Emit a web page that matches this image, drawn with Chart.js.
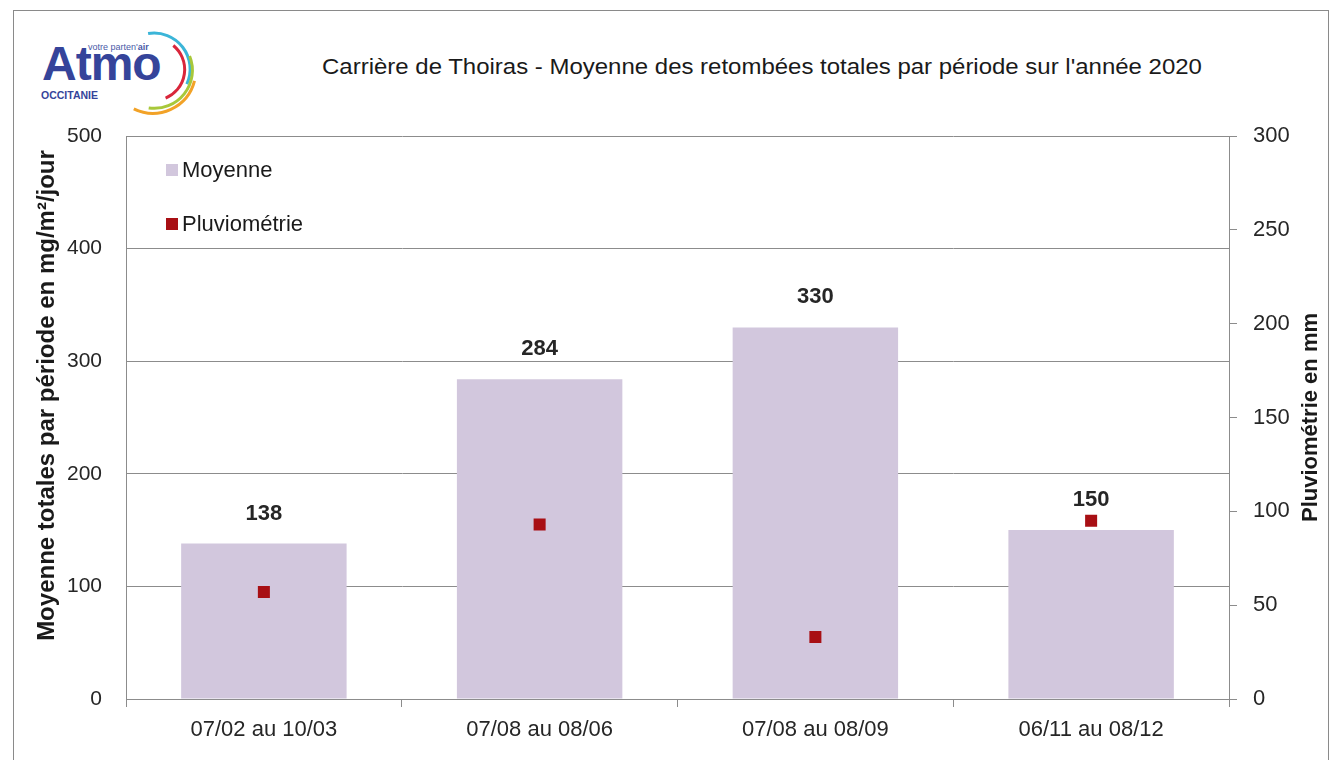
<!DOCTYPE html>
<html lang="fr">
<head>
<meta charset="utf-8">
<title>Carrière de Thoiras - retombées totales 2020</title>
<script src="https://cdn.jsdelivr.net/npm/chart.js@4.4.1/dist/chart.umd.min.js"></script>
<style>
    html, body { margin: 0; padding: 0; background: #fff; overflow: hidden; }
    #wrap { position: relative; width: 1335px; height: 760px; }
    #frame { position: absolute; left: 13px; top: 10px; width: 1314px; height: 800px; border: 1px solid #8a8a8a; }
    #chart { position: absolute; left: 0; top: 0; }
    #title { position: absolute; left: 200px; width: 1124px; top: 54px; text-align: center;
             font: 22px "Liberation Sans", Arial, sans-serif; color: #1a1a1a;
             transform: scaleX(1.09); transform-origin: 562px 0; }
    #logo { position: absolute; left: 30px; top: 26px; width: 175px; height: 96px; }
</style>
</head>
<body>
<div id="wrap">
    <div id="frame"></div>
    <svg id="logo" viewBox="0 0 175 96" xmlns="http://www.w3.org/2000/svg">
        <text x="58" y="24" font-family="Liberation Sans, Arial" font-size="9" fill="#4a5aa8">votre parten'<tspan font-weight="bold">air</tspan></text>
        <text x="12" y="54" font-family="Liberation Sans, Arial" font-weight="bold" font-size="48" fill="#35449a" letter-spacing="-1">Atmo</text>
        <text x="11" y="73" font-family="Liberation Sans, Arial" font-weight="bold" font-size="10.5" fill="#35449a">OCCITANIE</text>
        <path d="M 118.1 7.6 A 36 36 0 0 1 156.8 58.2" fill="none" stroke="#3bb5d8" stroke-width="3"/>
        <path d="M 143.3 19.5 A 31 31 0 0 1 135.6 72.1" fill="none" stroke="#d9263b" stroke-width="3"/>
        <path d="M 159.6 30.0 A 38 38 0 0 1 118.7 81.9" fill="none" stroke="#a8c83a" stroke-width="3"/>
        <path d="M 164.5 54.9 A 43 43 0 0 1 103.8 82.9" fill="none" stroke="#f2a227" stroke-width="3"/>
    </svg>
    <div id="title">Carrière de Thoiras - Moyenne des retombées totales par période sur l'année 2020</div>
    <canvas id="chart" width="1335" height="760"></canvas>
</div>
<script>
// Données
const periodes = ['07/02 au 10/03', '07/08 au 08/06', '07/08 au 08/09', '06/11 au 08/12'];
const moyennes = [138, 284, 330, 150];
const pluvio = [57, 93, 33, 95];
const ticksGauche = [0, 100, 200, 300, 400, 500];
const ticksDroite = [0, 50, 100, 150, 200, 250, 300];

const couleurBarre = '#d2c7dd';
const couleurPluie = '#a80f14';
const couleurGrille = '#8c8c8c';
const policeTexte = '"Liberation Sans", Arial, sans-serif';

// Valeurs au-dessus des barres
const etiquettesPlugin = {
    id: 'etiquettes',
    afterDatasetsDraw(chart) {
        const ctx = chart.ctx;
        const meta = chart.getDatasetMeta(0);
        ctx.save();
        ctx.font = 'bold 22px ' + policeTexte;
        ctx.fillStyle = '#262626';
        ctx.textAlign = 'center';
        ctx.textBaseline = 'middle';
        meta.data.forEach((bar, i) => {
            ctx.fillText(String(moyennes[i]), bar.x, bar.y - 30);
        });
        ctx.restore();
    }
};

// Légende dans la zone du graphique + titres des axes
const decorPlugin = {
    id: 'decor',
    afterDraw(chart) {
        const ctx = chart.ctx;
        const area = chart.chartArea;
        ctx.save();

        const items = [
            { label: chart.data.datasets[0].label, color: couleurBarre, y: 170 },
            { label: chart.data.datasets[1].label, color: couleurPluie, y: 224 }
        ];
        ctx.font = '22px ' + policeTexte;
        ctx.textBaseline = 'middle';
        ctx.textAlign = 'left';
        items.forEach(item => {
            ctx.fillStyle = item.color;
            ctx.fillRect(166, item.y - 6, 12, 12);
            ctx.fillStyle = '#1a1a1a';
            ctx.fillText(item.label, 182, item.y + 1);
        });

        const midY = (area.top + area.bottom) / 2;
        ctx.fillStyle = '#1a1a1a';
        ctx.textAlign = 'center';

        ctx.save();
        ctx.font = 'bold 24px ' + policeTexte;
        ctx.translate(47, midY - 22);
        ctx.rotate(-Math.PI / 2);
        ctx.fillText('Moyenne totales par période en mg/m²/jour', 0, 0);
        ctx.restore();

        ctx.save();
        ctx.font = 'bold 22px ' + policeTexte;
        ctx.translate(1311, midY);
        ctx.rotate(-Math.PI / 2);
        ctx.fillText('Pluviométrie en mm', 0, 0);
        ctx.restore();

        ctx.restore();
    }
};

new Chart(document.getElementById('chart'), {
    data: {
        labels: periodes,
        datasets: [
            {
                type: 'bar',
                label: 'Moyenne',
                data: moyennes,
                yAxisID: 'y',
                backgroundColor: couleurBarre,
                borderWidth: 0,
                barPercentage: 0.6,
                categoryPercentage: 1.0,
                order: 1
            },
            {
                type: 'scatter',
                label: 'Pluviométrie',
                data: pluvio,
                yAxisID: 'y2',
                showLine: false,
                pointStyle: 'rect',
                pointRadius: 8.5,
                pointHoverRadius: 8.5,
                pointBackgroundColor: couleurPluie,
                pointBorderColor: couleurPluie,
                pointBorderWidth: 0,
                order: 0
            }
        ]
    },
    options: {
        responsive: false,
        animation: false,
        events: [],
        layout: { padding: { top: 136, left: 0, right: 0, bottom: 0 } },
        plugins: {
            legend: { display: false },
            tooltip: { enabled: false },
            title: { display: false }
        },
        scales: {
            x: {
                type: 'category',
                offset: true,
                grid: {
                    offset: true,
                    drawOnChartArea: false,
                    drawTicks: true,
                    tickLength: 8,
                    color: couleurGrille
                },
                border: { color: couleurGrille },
                ticks: {
                    color: '#262626',
                    font: { family: policeTexte, size: 22 },
                    padding: 10,
                    maxRotation: 0
                },
                afterFit(scale) { scale.height = 61; }
            },
            y: {
                position: 'left',
                min: 0,
                max: 500,
                afterBuildTicks(scale) { scale.ticks = ticksGauche.map(v => ({ value: v })); },
                grid: { color: couleurGrille, drawTicks: false },
                border: { color: couleurGrille },
                ticks: {
                    color: '#262626',
                    font: { family: policeTexte, size: 21 },
                    padding: 24
                },
                afterFit(scale) { scale.width = 126; }
            },
            y2: {
                position: 'right',
                min: 0,
                max: 300,
                afterBuildTicks(scale) { scale.ticks = ticksDroite.map(v => ({ value: v })); },
                grid: { drawOnChartArea: false, drawTicks: true, tickLength: 8, color: couleurGrille },
                border: { color: couleurGrille },
                ticks: {
                    color: '#262626',
                    font: { family: policeTexte, size: 22 },
                    padding: 16
                },
                afterFit(scale) { scale.width = 106; }
            }
        }
    },
    plugins: [etiquettesPlugin, decorPlugin]
});
</script>
</body>
</html>
